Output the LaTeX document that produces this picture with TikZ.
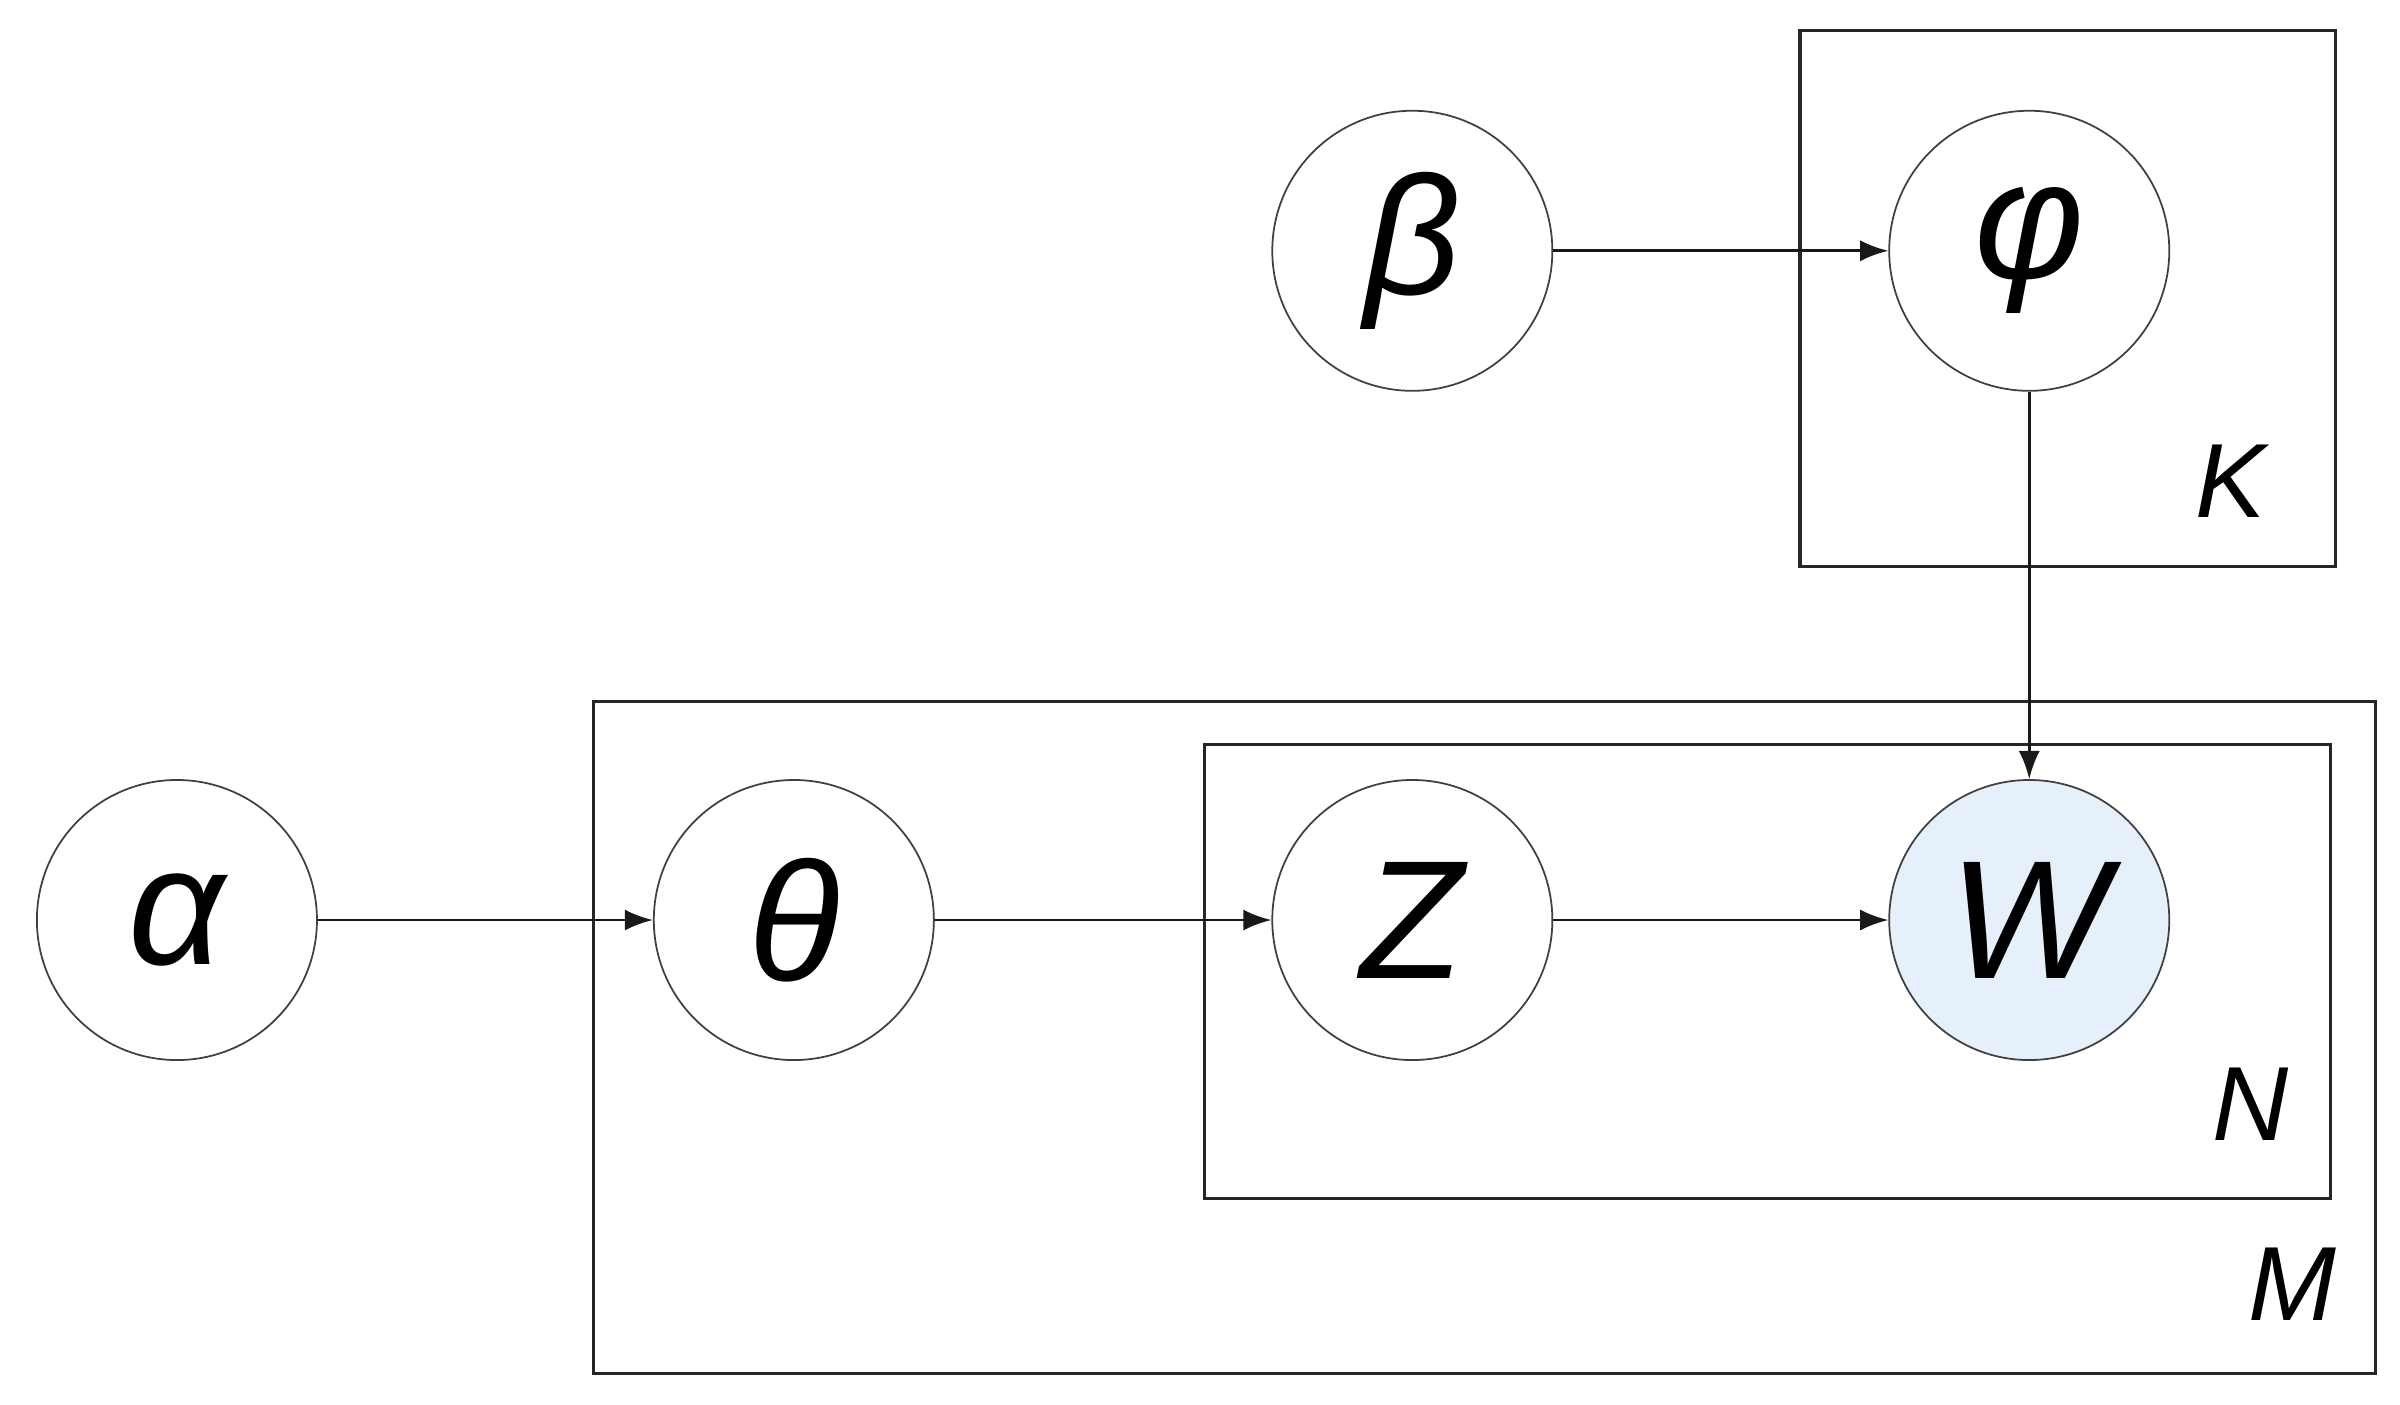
\documentclass[tikz,border=0pt]{standalone}
\usepackage{fontspec}
\setmainfont{Liberation Sans}
\usetikzlibrary{arrows.meta}
\definecolor{obs}{HTML}{E6F0FB}
\begin{document}
\begin{tikzpicture}[x=0.01538cm,y=-0.01538cm,
  var/.style={circle,draw=black!75,line width=0.5pt,minimum size=2.8cm,inner sep=0pt,font=\fontsize{48}{48}\selectfont\itshape},
  plate/.style={draw=black!85,line width=0.9pt},
  lab/.style={font=\fontsize{30}{30}\selectfont\itshape},
  arr/.style={-{Latex[length=8pt,width=6pt]},line width=0.8pt,black!90}]
\useasboundingbox (0,0) rectangle (1560,913);
\draw[plate] (1170,20) rectangle (1518,368);
\draw[plate] (386,456) rectangle (1544,893);
\draw[plate] (783,484) rectangle (1515,779);
\node[var] (beta) at (918,163) {β};
\node[var] (phi) at (1319,163) {φ};
\node[var] (alpha) at (115,598) {α};
\node[var] (theta) at (516,598) {θ};
\node[var] (z) at (918,598) {Z};
\node[var,fill=obs] (w) at (1319,598) {W};
\node[lab] (k) at (1450,313) {K};
\node[lab] (n) at (1463,718) {N};
\node[lab] (m) at (1490,835) {M};
\draw[arr] (beta) -- (phi);
\draw[arr] (phi) -- (w);
\draw[arr] (alpha) -- (theta);
\draw[arr] (theta) -- (z);
\draw[arr] (z) -- (w);
\end{tikzpicture}
\end{document}
